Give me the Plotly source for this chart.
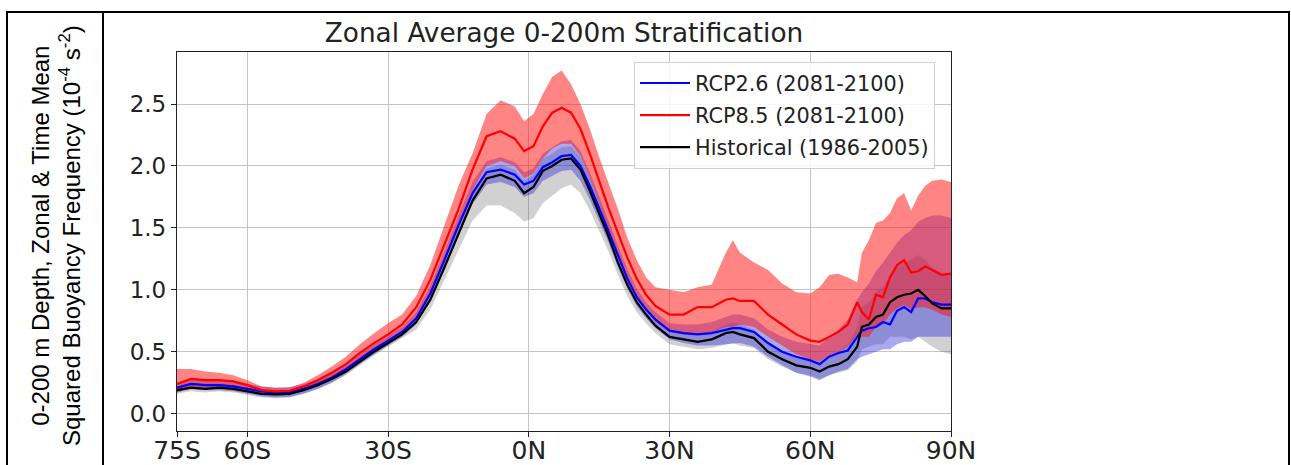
import plotly.graph_objects as go

lat = [-75, -72, -69, -66, -63, -60, -57, -54, -51, -48, -45, -42, -39, -36, -33, -30, -27, -24, -21, -18,
       -15, -12, -9, -6, -3, -1, 1, 3, 5, 7, 9, 11, 13, 15, 17, 19, 21, 23, 25, 27,
       30, 33, 36, 39, 42, 43.5, 45, 48, 51, 54, 57, 60, 62, 64, 66, 68, 70, 71, 72.5, 74,
       75.5, 77, 78.5, 80, 81.5, 83, 84.5, 86, 88, 90]

hist_mean = [0.19, 0.21, 0.20, 0.21, 0.20, 0.18, 0.16, 0.155, 0.16, 0.19, 0.23, 0.28, 0.34, 0.42, 0.50, 0.57, 0.64, 0.74, 0.92, 1.18,
             1.45, 1.72, 1.90, 1.93, 1.88, 1.78, 1.83, 1.96, 2.00, 2.05, 2.06, 1.97, 1.80, 1.62, 1.43, 1.22, 1.04, 0.90, 0.80, 0.71,
             0.62, 0.60, 0.58, 0.60, 0.65, 0.66, 0.64, 0.61, 0.50, 0.44, 0.39, 0.37, 0.34, 0.38, 0.40, 0.44, 0.54, 0.70, 0.72, 0.78,
             0.80, 0.90, 0.94, 0.96, 0.97, 1.00, 0.95, 0.89, 0.85, 0.85]
hist_upper = [0.22, 0.24, 0.23, 0.24, 0.23, 0.21, 0.19, 0.185, 0.19, 0.22, 0.26, 0.31, 0.37, 0.45, 0.53, 0.60, 0.67, 0.78, 0.98, 1.25,
              1.53, 1.80, 1.98, 2.01, 1.97, 1.88, 1.93, 2.06, 2.10, 2.15, 2.16, 2.07, 1.90, 1.71, 1.52, 1.31, 1.12, 0.97, 0.86, 0.77,
              0.67, 0.66, 0.65, 0.67, 0.72, 0.74, 0.72, 0.68, 0.57, 0.50, 0.45, 0.43, 0.41, 0.46, 0.50, 0.56, 0.70, 0.86, 0.90, 0.98,
              1.02, 1.12, 1.18, 1.22, 1.24, 1.28, 1.24, 1.18, 1.14, 1.12]
hist_lower = [0.16, 0.18, 0.17, 0.18, 0.17, 0.15, 0.13, 0.125, 0.13, 0.16, 0.20, 0.25, 0.31, 0.39, 0.47, 0.54, 0.61, 0.68, 0.84, 1.08,
              1.32, 1.56, 1.68, 1.68, 1.62, 1.55, 1.58, 1.70, 1.76, 1.82, 1.85, 1.78, 1.64, 1.48, 1.31, 1.12, 0.95, 0.82, 0.73, 0.65,
              0.56, 0.54, 0.52, 0.53, 0.56, 0.57, 0.55, 0.53, 0.44, 0.38, 0.33, 0.31, 0.28, 0.31, 0.33, 0.35, 0.42, 0.52, 0.54, 0.56,
              0.56, 0.62, 0.62, 0.62, 0.60, 0.62, 0.58, 0.54, 0.50, 0.48]

rcp26_mean = [0.21, 0.24, 0.23, 0.23, 0.22, 0.20, 0.18, 0.17, 0.175, 0.20, 0.24, 0.29, 0.36, 0.44, 0.52, 0.59, 0.66, 0.77, 0.97, 1.24,
              1.52, 1.78, 1.95, 1.97, 1.93, 1.85, 1.88, 1.99, 2.03, 2.08, 2.09, 2.00, 1.84, 1.66, 1.47, 1.27, 1.09, 0.94, 0.84, 0.76,
              0.67, 0.65, 0.64, 0.65, 0.68, 0.69, 0.69, 0.66, 0.57, 0.50, 0.46, 0.43, 0.40, 0.46, 0.49, 0.51, 0.62, 0.67, 0.69, 0.70,
              0.74, 0.72, 0.83, 0.86, 0.82, 0.93, 0.93, 0.90, 0.88, 0.88]
rcp26_upper = [0.25, 0.28, 0.27, 0.27, 0.26, 0.24, 0.22, 0.21, 0.215, 0.24, 0.28, 0.33, 0.40, 0.48, 0.56, 0.63, 0.70, 0.82, 1.03, 1.31,
               1.60, 1.87, 2.04, 2.07, 2.03, 1.95, 1.98, 2.10, 2.15, 2.20, 2.21, 2.12, 1.95, 1.76, 1.56, 1.36, 1.17, 1.01, 0.90, 0.82,
               0.73, 0.72, 0.72, 0.74, 0.78, 0.80, 0.80, 0.77, 0.68, 0.62, 0.58, 0.56, 0.55, 0.62, 0.68, 0.76, 0.92, 0.98, 1.05, 1.15,
               1.22, 1.30, 1.38, 1.44, 1.48, 1.55, 1.58, 1.60, 1.60, 1.58]
rcp26_lower = [0.17, 0.20, 0.19, 0.19, 0.18, 0.16, 0.14, 0.13, 0.135, 0.16, 0.20, 0.25, 0.32, 0.40, 0.48, 0.55, 0.62, 0.72, 0.91, 1.17,
               1.44, 1.69, 1.85, 1.87, 1.83, 1.75, 1.78, 1.88, 1.92, 1.96, 1.97, 1.88, 1.73, 1.56, 1.38, 1.18, 1.01, 0.87, 0.77, 0.69,
               0.60, 0.57, 0.55, 0.55, 0.56, 0.56, 0.57, 0.54, 0.46, 0.39, 0.33, 0.30, 0.27, 0.31, 0.34, 0.36, 0.44, 0.46, 0.48, 0.50,
               0.52, 0.52, 0.56, 0.58, 0.58, 0.62, 0.62, 0.62, 0.62, 0.62]

rcp85_mean = [0.24, 0.28, 0.27, 0.27, 0.26, 0.23, 0.19, 0.18, 0.185, 0.22, 0.27, 0.33, 0.40, 0.49, 0.57, 0.64, 0.72, 0.86, 1.08, 1.36,
              1.65, 1.97, 2.24, 2.28, 2.22, 2.12, 2.16, 2.32, 2.43, 2.47, 2.43, 2.30, 2.10, 1.88, 1.66, 1.46, 1.26, 1.09, 0.96, 0.87,
              0.80, 0.80, 0.86, 0.86, 0.92, 0.93, 0.91, 0.91, 0.80, 0.72, 0.64, 0.59, 0.58, 0.62, 0.66, 0.72, 0.90, 0.82, 0.76, 0.96,
              0.94, 1.10, 1.20, 1.24, 1.14, 1.15, 1.19, 1.16, 1.12, 1.13]
rcp85_upper = [0.36, 0.36, 0.34, 0.33, 0.31, 0.27, 0.22, 0.21, 0.21, 0.25, 0.31, 0.38, 0.46, 0.56, 0.65, 0.73, 0.80, 0.95, 1.20, 1.52,
               1.84, 2.10, 2.42, 2.53, 2.48, 2.36, 2.42, 2.58, 2.72, 2.77, 2.66, 2.50, 2.30, 2.07, 1.86, 1.65, 1.42, 1.24, 1.10, 1.02,
               1.00, 0.98, 1.02, 1.04, 1.30, 1.40, 1.30, 1.22, 1.16, 1.05, 0.98, 0.97, 1.02, 1.12, 1.13, 1.10, 1.06, 1.30, 1.40, 1.54,
               1.56, 1.62, 1.74, 1.78, 1.64, 1.76, 1.84, 1.88, 1.89, 1.87]
rcp85_lower = [0.17, 0.21, 0.21, 0.22, 0.21, 0.19, 0.16, 0.15, 0.16, 0.19, 0.24, 0.29, 0.35, 0.44, 0.51, 0.58, 0.66, 0.78, 0.98, 1.24,
               1.50, 1.80, 2.00, 2.04, 2.00, 1.90, 1.94, 2.06, 2.14, 2.18, 2.18, 2.08, 1.90, 1.70, 1.48, 1.28, 1.10, 0.96, 0.84, 0.74,
               0.66, 0.64, 0.64, 0.66, 0.70, 0.70, 0.72, 0.70, 0.62, 0.55, 0.48, 0.44, 0.42, 0.47, 0.50, 0.54, 0.64, 0.62, 0.62, 0.70,
               0.72, 0.80, 0.85, 0.88, 0.84, 0.86, 0.86, 0.84, 0.80, 0.78]

x_tickvals = [-75, -60, -30, 0, 30, 60, 90]
x_ticktext = ["75S", "60S", "30S", "0N", "30N", "60N", "90N"]
y_tickvals = [0.0, 0.5, 1.0, 1.5, 2.0, 2.5]
y_ticktext = ["0.0", "0.5", "1.0", "1.5", "2.0", "2.5"]

title_text = "Zonal Average 0-200m Stratification"
ylabel_text = "0-200 m Depth, Zonal & Time Mean<br>Squared Buoyancy Frequency (10<sup>-4</sup> s<sup>-2</sup>)"
names = ["RCP2.6 (2081-2100)", "RCP8.5 (2081-2100)", "Historical (1986-2005)"]

fig = go.Figure()


def add_band(lower, upper, color):
    fig.add_trace(go.Scatter(x=lat, y=lower, mode="lines", line=dict(width=0), showlegend=False, hoverinfo="skip"))
    fig.add_trace(go.Scatter(x=lat, y=upper, mode="lines", line=dict(width=0), fill="tonexty",
                             fillcolor=color, showlegend=False, hoverinfo="skip"))


add_band(hist_lower, hist_upper, "rgba(90,90,90,0.28)")
add_band(rcp26_lower, rcp26_upper, "rgba(40,40,220,0.40)")
add_band(rcp85_lower, rcp85_upper, "rgba(255,20,20,0.52)")

fig.add_trace(go.Scatter(x=lat, y=rcp26_mean, mode="lines", name=names[0], legendgroup="a",
                         line=dict(color="#0000ff", width=2.2)))
fig.add_trace(go.Scatter(x=lat, y=rcp85_mean, mode="lines", name=names[1], legendgroup="b",
                         line=dict(color="#ff0000", width=2.2)))
fig.add_trace(go.Scatter(x=lat, y=hist_mean, mode="lines", name=names[2], legendgroup="c",
                         line=dict(color="#000000", width=2.2)))

L, R, T, B = 177, 951, 52, 431
W, H = 1291, 465
pw, ph = R - L, B - T


def px(xp):
    return (xp - L) / pw


def py(yp):
    return (B - yp) / ph


border = dict(color="black", width=2)
shapes = [
    dict(type="rect", xref="paper", yref="paper", x0=px(7), x1=px(1289), y0=py(480), y1=py(12), line=border),
    dict(type="line", xref="paper", yref="paper", x0=px(103), x1=px(103), y0=py(480), y1=py(12), line=border),
]

axis_common = dict(showgrid=True, gridcolor="#c4c4c4", gridwidth=1, showline=True, linecolor="#222222",
                   linewidth=1.3, mirror=True, ticks="outside", ticklen=5, tickcolor="#222222",
                   zeroline=False, automargin=False)

fig.update_layout(
    width=W, height=H,
    margin=dict(l=L, r=W - R, t=T, b=H - B, pad=0),
    paper_bgcolor="white", plot_bgcolor="white",
    font=dict(family="DejaVu Sans", color="#222222"),
    title=dict(text=title_text, x=0.5, xref="paper", xanchor="center", y=1 - 33 / H, yref="container",
               yanchor="middle", font=dict(size=26.3, family="DejaVu Sans", color="#222222")),
    xaxis=dict(range=[-75, 90], tickvals=x_tickvals, ticktext=x_ticktext, ticklabelstandoff=-8,
               tickfont=dict(size=25, family="DejaVu Sans", color="#222222"), **axis_common),
    yaxis=dict(range=[-0.14, 2.92], tickvals=y_tickvals, ticktext=y_ticktext,
               tickfont=dict(size=23, family="DejaVu Sans", color="#222222"), **axis_common),
    legend=dict(x=px(634), xanchor="left", y=py(62), yanchor="top", bgcolor="rgba(255,255,255,0.85)",
                bordercolor="#d0d0d0", borderwidth=1, font=dict(size=20.8, family="DejaVu Sans", color="#222222"),
                tracegroupgap=2, traceorder="grouped", itemwidth=50),
    shapes=shapes,
    annotations=[dict(text=ylabel_text, xref="paper", yref="paper", x=px(56), y=py(236), textangle=-90,
                      showarrow=False, xanchor="center", yanchor="middle",
                      font=dict(size=24, family="Liberation Sans, Arial", color="black"))],
)

fig.write_html("out.html", config={"displayModeBar": False},
               post_script="document.body.style.margin='0';")
